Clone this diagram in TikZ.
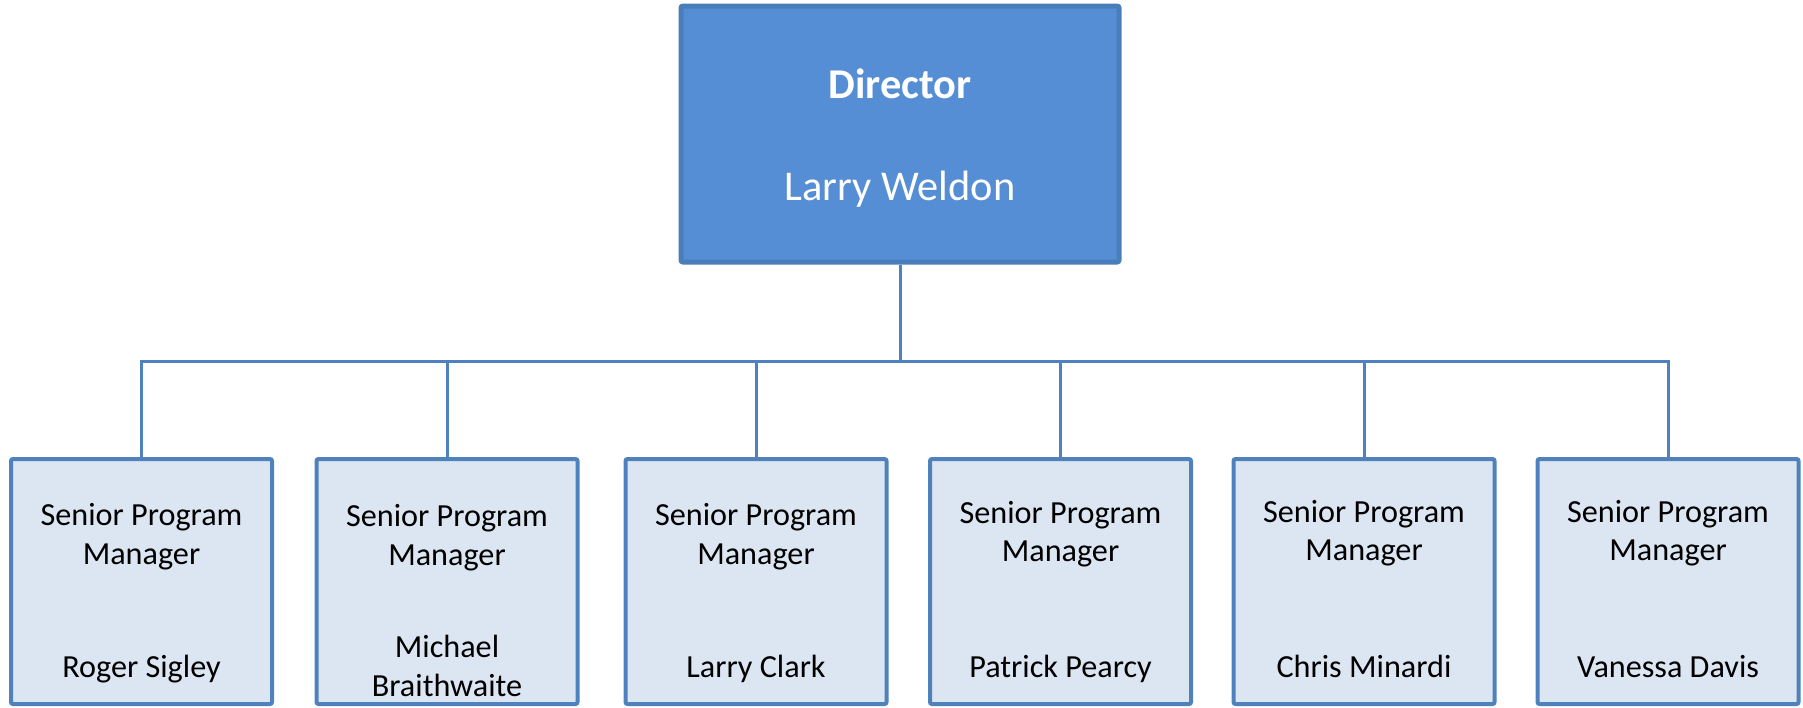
\documentclass[tikz,border=0pt]{standalone}
\usepackage{fontspec}
\setmainfont{Carlito}
\definecolor{dirfill}{HTML}{558ED5}
\definecolor{dirline}{HTML}{4A7EBB}
\definecolor{boxfill}{HTML}{DCE6F2}
\definecolor{boxline}{HTML}{4F81BD}
\begin{document}
\begin{tikzpicture}[x=0.5pt,y=-0.5pt,
  dirbox/.style={draw=dirline,fill=dirfill,line width=2.5pt,rounded corners=1pt,minimum width=219pt,minimum height=128pt,inner sep=0pt},
  mgrbox/.style={draw=boxline,fill=boxfill,line width=2pt,rounded corners=1pt,minimum width=130.5pt,minimum height=122.5pt,inner sep=0pt},
  conn/.style={draw=boxline,line width=1.5pt},
  lbl/.style={anchor=base,inner sep=0pt,font=\fontsize{16.1}{19}\selectfont},
  dirlbl/.style={anchor=base,inner sep=0pt,text=white,font=\fontsize{21.2}{25}\selectfont}]
\useasboundingbox (0,0) rectangle (1803,707);
% director
\node[dirbox] (dir) at (900,134) {};
\node[dirlbl,font=\fontsize{21.2}{25}\selectfont\bfseries] (dirt) at (900,98) {Director};
\node[dirlbl] (dirn) at (900,200) {Larry Weldon};
% bus
\coordinate (bus) at (900,361);
% managers
\node[mgrbox] (b1) at (141.5,581.5) {};
\node[mgrbox] (b2) at (447,581.5) {};
\node[mgrbox] (b3) at (756,581.5) {};
\node[mgrbox] (b4) at (1060.5,581.5) {};
\node[mgrbox] (b5) at (1364,581.5) {};
\node[mgrbox] (b6) at (1668,581.5) {};
% connectors
\draw[conn] (dir.south) -- (bus);
\foreach \b in {b1,b2,b3,b4,b5,b6}{
  \draw[conn] (bus) -| (\b.north);
}
% labels
\node[lbl] (t1a) at (141.5,525) {Senior Program};
\node[lbl] (t1b) at (141.5,564) {Manager};
\node[lbl] (n1)  at (141.5,677) {Roger Sigley};
\node[lbl] (t2a) at (447,526) {Senior Program};
\node[lbl] (t2b) at (447,565) {Manager};
\node[lbl] (n2a) at (447,657) {Michael};
\node[lbl] (n2b) at (447,696) {Braithwaite};
\node[lbl] (t3a) at (756,525) {Senior Program};
\node[lbl] (t3b) at (756,564) {Manager};
\node[lbl] (n3)  at (756,677) {Larry Clark};
\node[lbl] (t4a) at (1060.5,523) {Senior Program};
\node[lbl] (t4b) at (1060.5,561) {Manager};
\node[lbl] (n4)  at (1060.5,677) {Patrick Pearcy};
\node[lbl] (t5a) at (1364,522) {Senior Program};
\node[lbl] (t5b) at (1364,560) {Manager};
\node[lbl] (n5)  at (1364,677) {Chris Minardi};
\node[lbl] (t6a) at (1668,522) {Senior Program};
\node[lbl] (t6b) at (1668,560) {Manager};
\node[lbl] (n6)  at (1668,677) {Vanessa Davis};
\end{tikzpicture}
\end{document}
